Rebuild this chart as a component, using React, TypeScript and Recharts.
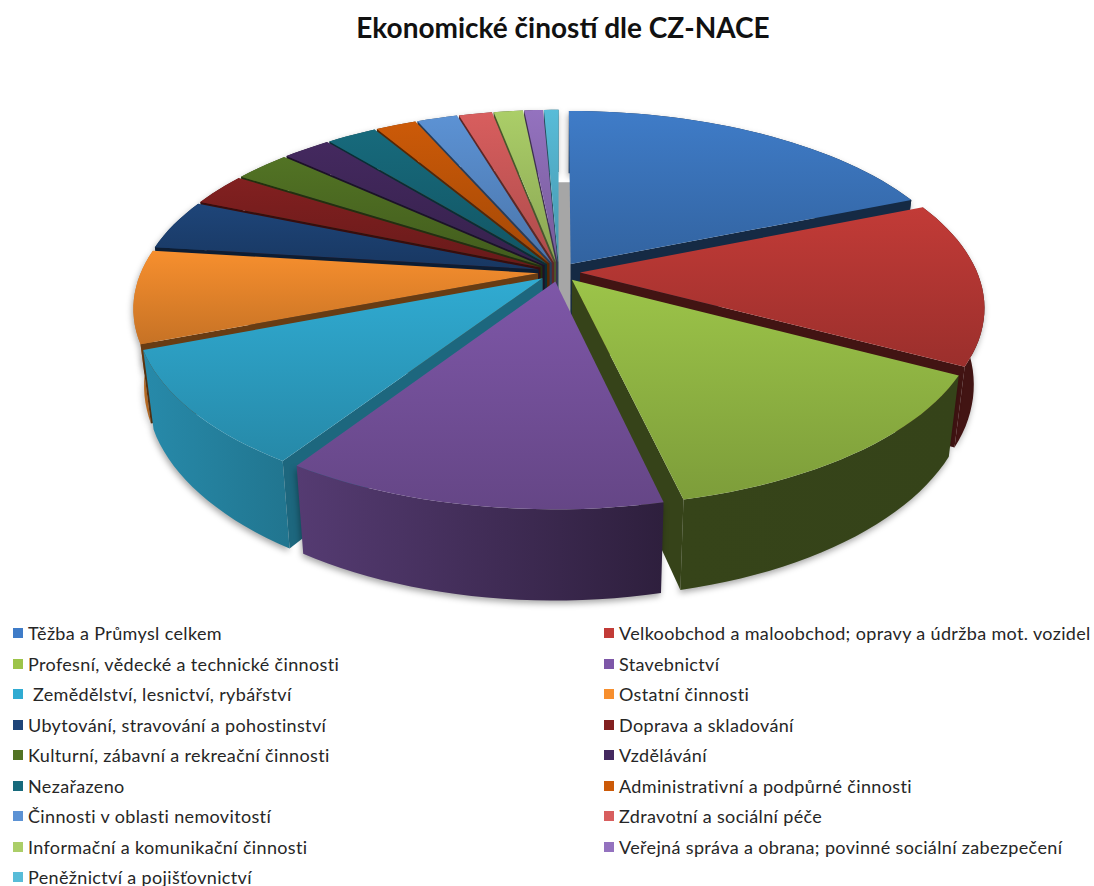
import React from "react";
import { PieChart, Pie, Legend } from "recharts";

const titleText = "Ekonomické čiností dle CZ-NACE";
const categories = [
  "Těžba a Průmysl celkem",
  "Velkoobchod a maloobchod; opravy a údržba mot. vozidel",
  "Profesní, vědecké a technické činnosti",
  "Stavebnictví",
  " Zemědělství, lesnictví, rybářství",
  "Ostatní činnosti",
  "Ubytování, stravování a pohostinství",
  "Doprava a skladování",
  "Kulturní, zábavní a rekreační činnosti",
  "Vzdělávání",
  "Nezařazeno",
  "Administrativní a podpůrné činnosti",
  "Činnosti v oblasti nemovitostí",
  "Zdravotní a sociální péče",
  "Informační a komunikační činnosti",
  "Veřejná správa a obrana; povinné sociální zabezpečení",
  "Peněžnictví a pojišťovnictví",
];
const shares = [18.8, 14, 13.6, 12.8, 9.9, 7.9, 4.3, 2.8, 2.7, 2.3, 2.4, 1.95, 1.95, 1.6, 1.4, 0.9, 0.7];
const colors = [
  "#3f7cc8", "#c23b37", "#9cc449", "#7e57a8", "#30abd2", "#f78f2e", "#1e4579", "#822020", "#527324",
  "#44295f", "#176a7c", "#cc5a08", "#5c92d4", "#d85e5e", "#abce68", "#9472bf", "#58bcd8",
];

const table = categories.map((name, i) => ({ name, value: shares[i], fill: colors[i] }));
const reversedTable = [...table].reverse();

const K = 0.179;
const RATIO = 184 / 399;
const DEPTH = 74;
const EXPLODE = 0.053;
const BOTTOM = 0.975;

function shade(hex: string, f: number) {
  const n = parseInt(hex.slice(1), 16);
  const c = [(n >> 16) & 255, (n >> 8) & 255, n & 255].map((v) => Math.round(v * f));
  return `rgb(${c[0]},${c[1]},${c[2]})`;
}
const wallFactor = (x: number) => Math.max(0.34, Math.min(0.82, 0.82 - ((x - 130) / 535) * 0.46));

function geometry(p: any) {
  const { cx, cy, outerRadius: r } = p;
  const hi = Math.max(p.startAngle, p.endAngle);
  const lo = Math.min(p.startAngle, p.endAngle);
  const mid = (((hi + lo) / 2) * Math.PI) / 180;
  const ou = EXPLODE * Math.cos(mid);
  const ov = -EXPLODE * Math.sin(mid);
  const project = (u: number, v: number, down: boolean) => {
    const w = 1 - K * v;
    let x = (r * u) / w;
    const y = (r * RATIO * v) / w;
    if (down) x *= BOTTOM;
    return [cx + x, cy + y + (down ? DEPTH / w : 0)];
  };
  const rim: number[][] = [];
  const steps = Math.max(2, Math.ceil((hi - lo) / 2));
  for (let i = 0; i <= steps; i++) {
    const a = ((hi - ((hi - lo) * i) / steps) * Math.PI) / 180;
    rim.push([ou + Math.cos(a), ov - Math.sin(a)]);
  }
  return { hi, lo, ou, ov, project, rim };
}
const toPath = (pts: number[][]) => "M" + pts.map((q) => `${q[0].toFixed(1)},${q[1].toFixed(1)}`).join("L") + "Z";

function Wall(p: any) {
  const g = geometry(p);
  const top = g.rim.map(([u, v]) => g.project(u, v, false));
  const bottom = g.rim.map(([u, v]) => g.project(u, v, true));
  const tipT = g.project(g.ou, g.ov, false);
  const tipB = g.project(g.ou, g.ov, true);
  const first = top[0];
  const last = top[top.length - 1];
  const theta0 = (((90 - g.hi) % 360) + 360) % 360;
  const theta1 = 90 - g.lo;
  const startVisible = Math.sin((theta0 * Math.PI) / 180) < 0;
  const endVisible = Math.sin((theta1 * Math.PI) / 180) > 0;
  const id = `wall-${Math.round(g.hi * 10) + 4000}`;
  const xs = [...top, ...bottom].map((q) => q[0]);
  const x0 = Math.min(...xs);
  const x1 = Math.max(...xs);
  const isFirst = p.payload?.name === categories[0] || p.name === categories[0];
  const startFactor = theta0 < 240 ? 0.6 : 0.42;
  return (
    <g>
      <defs>
        <linearGradient id={id} gradientUnits="userSpaceOnUse" x1={x0} x2={x1} y1={0} y2={0}>
          <stop offset="0%" stopColor={shade(p.fill, wallFactor(x0))} />
          <stop offset="100%" stopColor={shade(p.fill, wallFactor(x1))} />
        </linearGradient>
      </defs>
      {isFirst && (
        <path
          d={toPath([
            [tipT[0] - 14, bottom[0][1] + 9],
            [tipT[0] + 1, bottom[0][1] + 9],
            [tipT[0] + 1, tipB[1]],
            [tipT[0] - 14, tipB[1]],
          ])}
          fill="#a6a6a6"
        />
      )}
      <path
        d={toPath([...top, ...[...bottom].reverse()])}
        fill={`url(#${id})`}
        style={{ filter: "drop-shadow(-1px 3px 3px rgba(0,0,0,0.35))" }}
      />
      {startVisible && <path d={toPath([tipT, first, bottom[0], tipB])} fill={shade(p.fill, startFactor)} />}
      {endVisible && (
        <path
          d={toPath([tipT, last, bottom[bottom.length - 1], tipB])}
          fill={shade(p.fill, Math.min(0.4, wallFactor(last[0])))}
        />
      )}
    </g>
  );
}

const theta = (p: any) => 90 - (p.startAngle + p.endAngle) / 2;
const normTheta = (p: any) => ((theta(p) % 360) + 360) % 360;
const RightWall = (p: any) => (normTheta(p) < 180 ? <Wall {...p} /> : <g />);
const LeftWall = (p: any) => (normTheta(p) >= 180 ? <Wall {...p} /> : <g />);

function TopFace(p: any) {
  const g = geometry(p);
  const pts = [g.project(g.ou, g.ov, false), ...g.rim.map(([u, v]) => g.project(u, v, false))];
  const id = `top-${Math.round(g.hi * 10) + 4000}`;
  return (
    <g>
      <defs>
        <linearGradient id={id} x1="0" x2="0" y1="0" y2="1">
          <stop offset="0%" stopColor={p.fill} />
          <stop offset="100%" stopColor={shade(p.fill, 0.8)} />
        </linearGradient>
      </defs>
      <path d={toPath(pts)} fill={`url(#${id})`} />
    </g>
  );
}

function LegendGrid(props: any) {
  const items = (props.payload || []).filter((e: any) => e.type !== "none");
  return (
    <div
      style={{
        display: "grid",
        gridTemplateColumns: "591px 1fr",
        gridAutoRows: "30.5px",
        paddingLeft: 13,
        fontFamily: "Lato, sans-serif",
        fontSize: 18,
        lineHeight: "18px",
        letterSpacing: 0.35,
        color: "#262626",
      }}
    >
      {items.map((e: any) => (
        <div key={e.value} style={{ display: "flex", alignItems: "center", whiteSpace: "pre" }}>
          <span style={{ width: 10, height: 10, background: e.color, marginRight: 5, flex: "none" }} />
          <span>{e.value}</span>
        </div>
      ))}
    </div>
  );
}

export default function App() {
  const common = { dataKey: "value", nameKey: "name", cx: 559, cy: 272, innerRadius: 0, outerRadius: 397, stroke: "none", isAnimationActive: false };
  return (
    <div style={{ position: "absolute", left: 0, top: 0, width: 1094, height: 886, background: "#fff" }}>
      <PieChart width={1094} height={886} margin={{ top: 0, right: 0, bottom: 0, left: 0 }}>
        <text x={563} y={38} textAnchor="middle" fontFamily="Lato, sans-serif" fontWeight={700} fontSize={28} fill="#111">
          {titleText}
        </text>
        <Pie {...common} data={table} startAngle={90} endAngle={-270} shape={RightWall} legendType="none" />
        <Pie {...common} data={reversedTable} startAngle={-270} endAngle={90} shape={LeftWall} legendType="none" />
        <Pie {...common} data={table} startAngle={90} endAngle={-270} shape={TopFace} />
        <Legend content={LegendGrid} itemSorter={null} wrapperStyle={{ left: 0, top: 618, width: 1094, height: 268 }} />
      </PieChart>
    </div>
  );
}
